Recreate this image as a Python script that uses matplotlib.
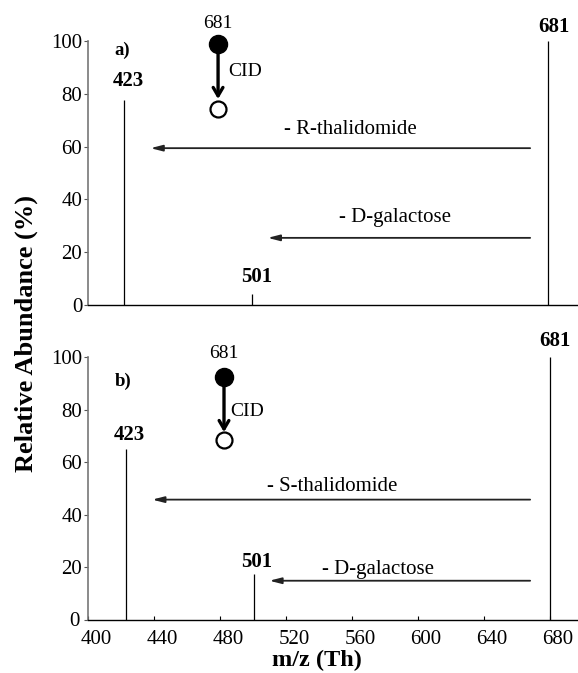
import matplotlib
matplotlib.use("Agg")
import matplotlib.pyplot as plt
import matplotlib.transforms as mtransforms

plt.rcParams['font.family'] = ['Liberation Serif', 'DejaVu Serif']

# peak positions (m/z) and relative abundances
peaks_mz_a = [421.7, 499.7, 679.0]
peaks_int_a = [77.5, 4.2, 100.0]
peaks_mz_b = [422.9, 500.8, 680.0]
peaks_int_b = [65.0, 17.5, 100.0]
peak_labels = ['423', '501', '681']

# neutral-loss arrows: (start m/z, end m/z, y level, text)
losses_a = [(668, 438, 59.4, '- R-thalidomide'), (668, 509, 25.4, '- D-galactose')]
losses_b = [(668, 439, 45.8, '- S-thalidomide'), (668, 510, 14.9, '- D-galactose')]

xticks = [400, 440, 480, 520, 560, 600, 640, 680]
yticks = [0, 20, 40, 60, 80, 100]

fig = plt.figure(figsize=(5.78, 6.73), dpi=100)
ax1 = fig.add_axes([0.152, 0.547, 0.848, 0.392])
ax2 = fig.add_axes([0.152, 0.079, 0.848, 0.390])


def draw_panel(ax, mz, inten, losses, tag, lab_pos, inset, loss_txt):
    ax.vlines(mz, 0, inten, color='black', lw=0.9)
    ax.set_xlim(400, 697)
    ax.set_ylim(0, 100)
    ax.set_yticks(yticks)
    ax.tick_params(axis='y', direction='out', length=3, width=0.8, labelsize=15, pad=1,
                   color='#555555')
    ax.spines['top'].set_visible(False)
    ax.spines['right'].set_visible(False)
    ax.spines['left'].set_color('#777777')
    ax.spines['left'].set_linewidth(1.2)
    ax.spines['bottom'].set_linewidth(1.0)
    for (x0, x1, y, txt) in losses:
        ax.annotate('', xy=(x1, y), xytext=(x0, y),
                    arrowprops=dict(arrowstyle='-|>,head_length=0.7,head_width=0.18',
                                    color='#222222', lw=1.3, shrinkA=0, shrinkB=0))
    for (x, y), txt in zip(loss_txt, [l[3] for l in losses]):
        ax.text(x, y, txt, fontsize=15, ha='center', va='center')
    for (x, y), txt in zip(lab_pos, peak_labels):
        ax.text(x, y, txt, fontsize=15, fontweight='bold', ha='center', va='center',
                clip_on=False)
    ax.text(416, tag[1], tag[0], fontsize=13.5, fontweight='bold', ha='left', va='center')
    cx, ytxt, yfill, yarr, yopen, cidx, cidy = inset
    ax.text(cx, ytxt, '681', fontsize=14, ha='center', va='center', clip_on=False)
    ax.plot([cx], [yfill], 'o', ms=13, color='black', clip_on=False)
    ax.annotate('', xy=(cx, yarr), xytext=(cx, yfill),
                arrowprops=dict(arrowstyle='->,head_length=0.6,head_width=0.35',
                                color='black', lw=2.4, shrinkA=0, shrinkB=0))
    ax.plot([cx], [yopen], 'o', ms=11.5, mfc='white', mec='black', mew=1.6, clip_on=False)
    ax.text(cidx, cidy, 'CID', fontsize=14, ha='left', va='center')


draw_panel(ax1, peaks_mz_a, peaks_int_a, losses_a, ('a)', 96.5),
           [(424.7, 84.8), (502.0, 10.6), (682.2, 105.3)],
           (478.9, 106.8, 98.9, 78.0, 74.2, 485.0, 88.6),
           [(559, 66.3), (586, 33.0)])
draw_panel(ax2, peaks_mz_b, peaks_int_b, losses_b, ('b)', 90.8),
           [(425.0, 70.6), (502.0, 22.1), (683.0, 106.1)],
           (482.5, 101.5, 92.4, 71.5, 68.7, 486.5, 79.4),
           [(548, 50.8), (576, 19.1)])

ax1.set_xticks([])
ax2.set_xticks(xticks)
ax2.tick_params(axis='x', direction='in', length=3, width=0.8, labelsize=15, pad=7)

# in the original the x labels sit a little right of their ticks
fig.canvas.draw()
xshift = mtransforms.ScaledTranslation(8 / 100, 0, fig.dpi_scale_trans)
for t in ax2.xaxis.get_major_ticks():
    t.label1.set_transform(t.label1.get_transform() + xshift)
# and the bottom "0" tucks in just left of the "400"
zshift = mtransforms.ScaledTranslation(-3 / 100, 1 / 100, fig.dpi_scale_trans)
ytl = ax2.yaxis.get_major_ticks()[0].label1
ytl.set_transform(ytl.get_transform() + zshift)

fig.text(0.045, 0.504, 'Relative Abundance (%)', rotation=90, fontsize=19,
         fontweight='bold', ha='center', va='center')
fig.text(0.549, 0.018, 'm/z (Th)', fontsize=17.5, fontweight='bold', ha='center', va='center')

fig.savefig('out.png', dpi=100)
